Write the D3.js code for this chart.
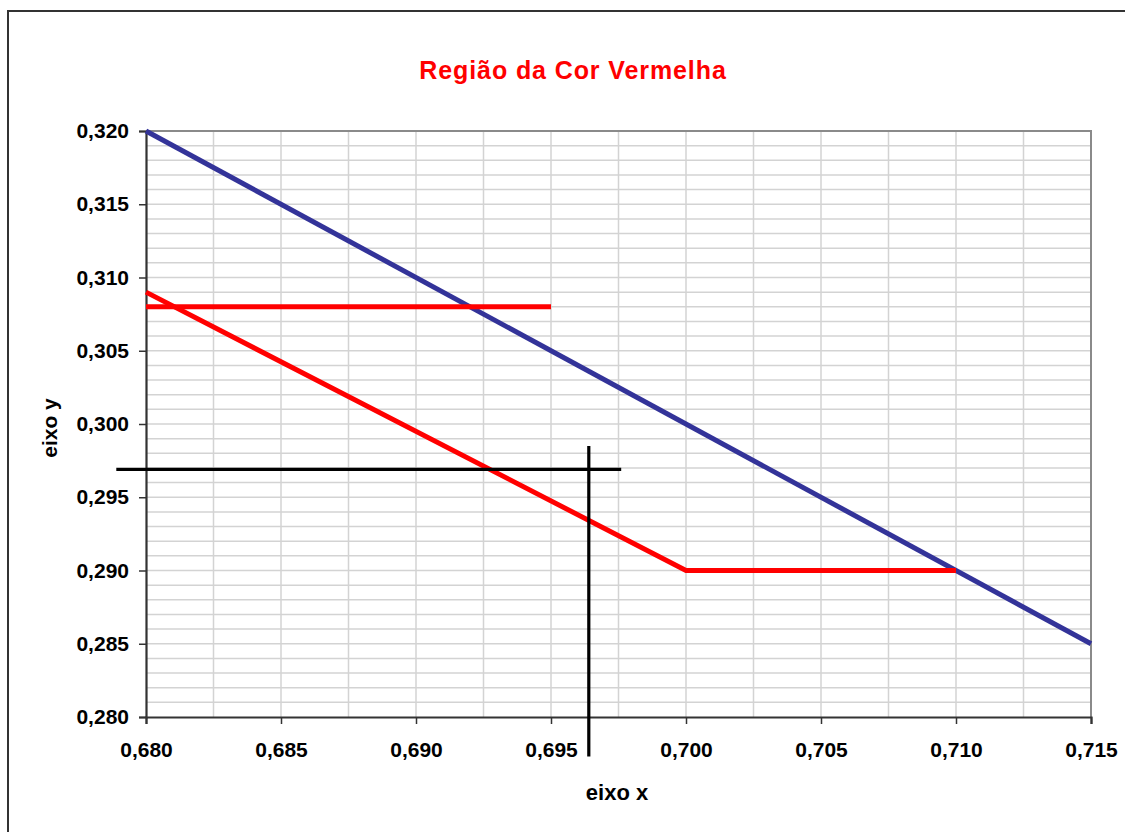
<!DOCTYPE html>
<html><head><meta charset="utf-8">
<script src="https://cdn.jsdelivr.net/npm/d3@7"></script>
<style>body{margin:0;background:#fff}svg{display:block}text{font-family:"Liberation Sans",Arial,sans-serif;font-weight:bold}</style>
</head><body>
<svg id="c" width="1125" height="832"></svg>
<script>
const title = "Região da Cor Vermelha";
const xLabel = "eixo x", yLabel = "eixo y";
const xTicks = [0.680,0.685,0.690,0.695,0.700,0.705,0.710,0.715];
const yTicks = [0.280,0.285,0.290,0.295,0.300,0.305,0.310,0.315,0.320];
const blueLine = [[0.680,0.320],[0.715,0.285]];
const redLine = [[0.680,0.309],[0.700,0.290],[0.710,0.290]];
const redFlat = [[0.680,0.308],[0.695,0.308]];
const blackH = [[0.6789,0.2969],[0.6976,0.2969]];
const blackV = [[0.6964,0.2985],[0.6964,0.2773]];

const svg = d3.select("#c");
const L=146, R=1091, T=131, B=717;
const x = d3.scaleLinear().domain([0.680,0.715]).range([L,R]);
const y = d3.scaleLinear().domain([0.280,0.320]).range([B,T]);
const fmt = d => d3.format(".3f")(d).replace(".", ",");

// outer border
svg.append("rect").attr("x",8).attr("y",11).attr("width",1130).attr("height",840)
  .attr("fill","none").attr("stroke","#333").attr("stroke-width",2);

// grid
const hg = d3.range(281,320).map(v=>v/1000);
svg.append("g").selectAll("line").data(hg).join("line")
  .attr("x1",L).attr("x2",R).attr("y1",d=>y(d)).attr("y2",d=>y(d))
  .attr("stroke","#d3d3d3").attr("stroke-width",1.5);
const vg = d3.range(1,14).map(i=>0.680+i*0.0025);
svg.append("g").selectAll("line").data(vg).join("line")
  .attr("y1",T).attr("y2",B).attr("x1",d=>x(d)).attr("x2",d=>x(d))
  .attr("stroke","#d3d3d3").attr("stroke-width",1.5);

// top/right border
svg.append("path").attr("d",`M${L},${T}H${R}V${B}`).attr("fill","none").attr("stroke","#8a8a8a").attr("stroke-width",2);

// axes
const xa = svg.append("g").attr("transform",`translate(0,${B})`)
  .call(d3.axisBottom(x).tickValues(xTicks).tickFormat(fmt).tickSizeOuter(0).tickSize(7).tickPadding(18));
const ya = svg.append("g").attr("transform",`translate(${L},0)`)
  .call(d3.axisLeft(y).tickValues(yTicks).tickFormat(fmt).tickSizeOuter(0).tickSize(7).tickPadding(10));
[xa,ya].forEach(a=>{
  a.select(".domain").attr("stroke","#333").attr("stroke-width",2.2);
  a.selectAll(".tick line").attr("stroke","#333").attr("stroke-width",1.5);
  a.selectAll(".tick text").attr("fill","#000").style("font-size","21px").style("font-family","Liberation Sans, Arial, sans-serif").style("font-weight","bold");
});

const line = d3.line().x(d=>x(d[0])).y(d=>y(d[1]));
svg.append("path").attr("d",line(blueLine)).attr("fill","none").attr("stroke","#333399").attr("stroke-width",5);
svg.append("path").attr("d",line(redLine)).attr("fill","none").attr("stroke","#ff0000").attr("stroke-width",5);
svg.append("path").attr("d",line(redFlat)).attr("fill","none").attr("stroke","#ff0000").attr("stroke-width",5);
svg.append("path").attr("d",line(blackH)).attr("fill","none").attr("stroke","#000").attr("stroke-width",3.2);
svg.append("path").attr("d",line(blackV)).attr("fill","none").attr("stroke","#000").attr("stroke-width",3.2);

svg.append("text").attr("x",573).attr("y",79).attr("text-anchor","middle")
  .attr("fill","#ff0000").style("font-size","25px").style("letter-spacing","0.9px").text(title);
svg.append("text").attr("x",617).attr("y",800).attr("text-anchor","middle")
  .attr("fill","#000").style("font-size","22px").text(xLabel);
svg.append("text").attr("transform","translate(57,428) rotate(-90)").attr("text-anchor","middle")
  .attr("fill","#000").style("font-size","21px").text(yLabel);
</script>
</body></html>
